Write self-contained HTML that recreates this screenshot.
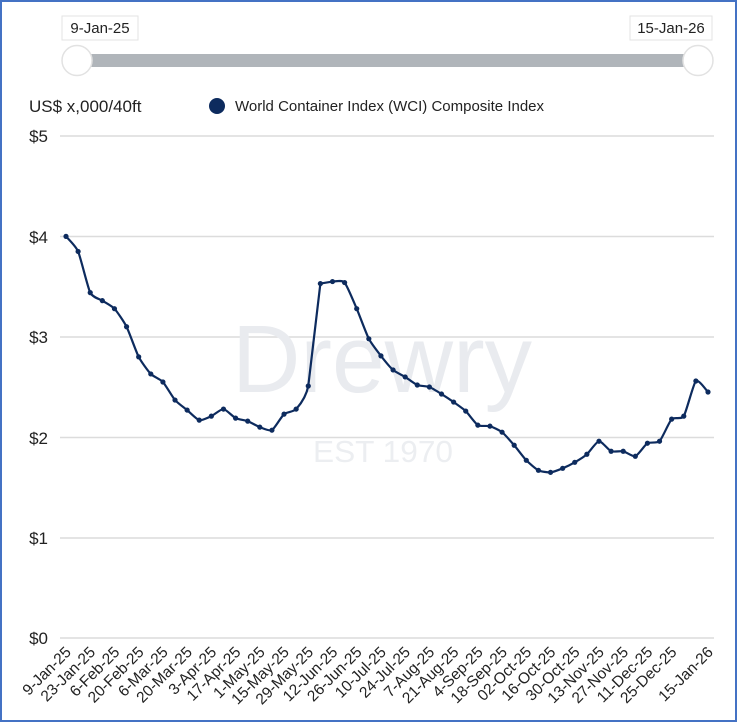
<!DOCTYPE html>
<html><head><meta charset="utf-8"><style>
html,body{margin:0;padding:0;background:#fff;}
svg{display:block;font-family:"Liberation Sans",Arial,sans-serif;}
</style></head><body>
<svg width="738" height="723" viewBox="0 0 738 723" xmlns="http://www.w3.org/2000/svg">
<rect x="1" y="1" width="735" height="720" fill="#fff" stroke="#4472c4" stroke-width="2"/>
<rect x="62" y="16" width="76" height="24" fill="#fff" stroke="#e3e3e3"/>
<text x="100" y="33" font-size="15" fill="#222" text-anchor="middle">9-Jan-25</text>
<rect x="630" y="16" width="82" height="24" fill="#fff" stroke="#e3e3e3"/>
<text x="671" y="33" font-size="15" fill="#222" text-anchor="middle">15-Jan-26</text>
<rect x="77" y="54" width="621" height="13" fill="#b0b5ba"/>
<circle cx="77" cy="60.5" r="15" fill="#fff" stroke="#e2e2e2" stroke-width="1.5"/>
<circle cx="698" cy="60.5" r="15" fill="#fff" stroke="#e2e2e2" stroke-width="1.5"/>
<text x="29" y="112" font-size="17" fill="#222">US$ x,000/40ft</text>
<circle cx="217" cy="106" r="8" fill="#0d2b5e"/>
<text x="235" y="111" font-size="15" fill="#222">World Container Index (WCI) Composite Index</text>
<g stroke="#dcdcdc" stroke-width="1.5">
<line x1="60" x2="714" y1="136" y2="136"/><line x1="60" x2="714" y1="236.5" y2="236.5"/>
<line x1="60" x2="714" y1="337" y2="337"/><line x1="60" x2="714" y1="437.5" y2="437.5"/>
<line x1="60" x2="714" y1="538" y2="538"/><line x1="60" x2="714" y1="638" y2="638"/>
</g>
<g font-size="17" fill="#222" text-anchor="end">
<text x="48" y="142">$5</text><text x="48" y="243">$4</text><text x="48" y="343">$3</text>
<text x="48" y="444">$2</text><text x="48" y="544">$1</text><text x="48" y="644">$0</text>
</g>
<text x="382" y="392" font-size="96" fill="#e9ebef" text-anchor="middle" textLength="300" lengthAdjust="spacingAndGlyphs">Drewry</text>
<text x="383" y="462" font-size="31" fill="#eceef1" text-anchor="middle" textLength="140" lengthAdjust="spacingAndGlyphs">EST 1970</text>
<g id="chart"></g>
<g id="labels" font-size="15.5" fill="#222"></g>
</svg>
<script>
var v=[4.00,3.85,3.44,3.36,3.28,3.10,2.80,2.63,2.55,2.37,2.27,2.17,2.21,2.28,2.19,2.16,2.10,2.07,2.23,2.28,2.51,3.53,3.55,3.54,3.28,2.98,2.81,2.67,2.60,2.52,2.50,2.43,2.35,2.26,2.12,2.11,2.05,1.92,1.77,1.67,1.65,1.69,1.75,1.83,1.96,1.86,1.86,1.81,1.94,1.96,2.18,2.21,2.56,2.45];
var ns="http://www.w3.org/2000/svg";
function X(i){return 66+i*(642/53);} function Y(val){return 638-val*100.4;}
var pts=v.map(function(val,i){return [X(i),Y(val)];});
var d="M"+pts[0][0]+","+pts[0][1];
for(var i=0;i<pts.length-1;i++){
 var p0=pts[Math.max(0,i-1)],p1=pts[i],p2=pts[i+1],p3=pts[Math.min(pts.length-1,i+2)];
 var t=(i==20||i==21)?0:0.3/3;
 d+=" C"+(p1[0]+(p2[0]-p0[0])*t)+","+(p1[1]+(p2[1]-p0[1])*t)+" "+(p2[0]-(p3[0]-p1[0])*t)+","+(p2[1]-(p3[1]-p1[1])*t)+" "+p2[0]+","+p2[1];
}
var g=document.getElementById("chart");
var path=document.createElementNS(ns,"path");
path.setAttribute("d",d);path.setAttribute("fill","none");path.setAttribute("stroke","#0d2b5e");path.setAttribute("stroke-width","2.2");
g.appendChild(path);
pts.forEach(function(p){var c=document.createElementNS(ns,"circle");c.setAttribute("cx",p[0]);c.setAttribute("cy",p[1]);c.setAttribute("r","2.6");c.setAttribute("fill","#0d2b5e");g.appendChild(c);});
var labs=["9-Jan-25","23-Jan-25","6-Feb-25","20-Feb-25","6-Mar-25","20-Mar-25","3-Apr-25","17-Apr-25","1-May-25","15-May-25","29-May-25","12-Jun-25","26-Jun-25","10-Jul-25","24-Jul-25","7-Aug-25","21-Aug-25","4-Sep-25","18-Sep-25","02-Oct-25","16-Oct-25","30-Oct-25","13-Nov-25","27-Nov-25","11-Dec-25","25-Dec-25","15-Jan-26"];
var lg=document.getElementById("labels");
labs.forEach(function(s,k){var idx=k<26?k*2:53;var x=X(idx)+6,y=653;
 var t=document.createElementNS(ns,"text");t.setAttribute("x",x);t.setAttribute("y",y);t.setAttribute("text-anchor","end");
 t.setAttribute("transform","rotate(-45 "+x+" "+y+")");t.textContent=s;lg.appendChild(t);});
</script>
</body></html>
